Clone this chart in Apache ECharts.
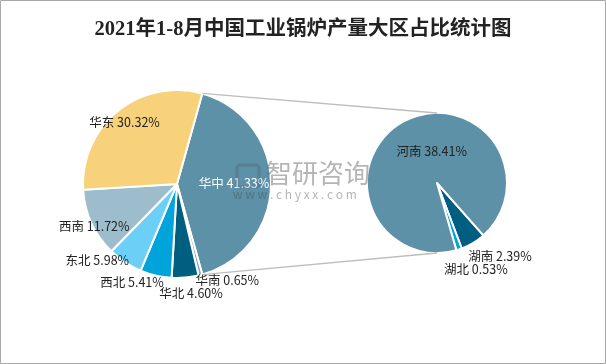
<!DOCTYPE html>
<html>
<head>
<meta charset="utf-8">
<script src="https://cdn.jsdelivr.net/npm/echarts@6/dist/echarts.min.js"></script>
<style>
html,body{margin:0;padding:0;background:#fff;}
#chart{width:606px;height:364px;}
</style>
</head>
<body>
<div id="chart"></div>
<script>
// ---- data ----
const titleText = '2021年1-8月中国工业锅炉产量大区占比统计图';
const mainNames = ['华中', '华南', '华北', '西北', '东北', '西南', '华东'];
const mainValues = [41.33, 0.65, 4.60, 5.41, 5.98, 11.72, 30.32];
const subNames = ['湖南', '湖北', '河南'];
const subValues = [2.39, 0.53, 38.41];

// ---- styling / layout (not data) ----
const mainColors = ['#5D91A8', '#7FA9BC', '#005F80', '#00A3DA', '#6BCFF6', '#9DBDCC', '#F7D27B'];
const subColors = ['#005F80', '#00A3DA', '#5D91A8'];
const mainLabelPos = ['inside', 'outside', 'outside', 'outside', 'outside', 'outside', 'inside'];
const mainLabelColor = ['#fff', '#222', '#222', '#222', '#222', '#222', '#222'];
const mainLabelShift = [[7, -1], [-10, 5], [-31, 16], [13, 7], [9, -2], [43, 3], [-21, -23]];
const subLabelPos = ['outside', 'outside', 'inside'];
const subLabelShift = [[-10, 13], [-20, 20], [13, 2]];

const L = { cx: 177, cy: 184, r: 94 };
const R = { cx: 437, cy: 183, r: 70 };
const subStart = 311.5;

const total = mainValues.reduce((a, b) => a + b, 0);
const splitSpan = mainValues[0] / total * 360;
const mainStart = splitSpan / 2;   // split slice centred on the right

function pt(c, degCCW) {
  const a = degCCW * Math.PI / 180;
  return [c.cx + c.r * Math.cos(a), c.cy - c.r * Math.sin(a)];
}
const topA = pt(L, mainStart), botA = pt(L, mainStart - splitSpan);
const topB = [R.cx, R.cy - R.r], botB = [R.cx, R.cy + R.r];

const font = '"Noto Sans CJK SC", "Microsoft YaHei", sans-serif';

const chart = echarts.init(document.getElementById('chart'), null, { renderer: 'canvas' });
chart.setOption({
  backgroundColor: '#fff',
  animation: false,
  title: {
    text: titleText,
    left: 'center',
    top: 14,
    textStyle: { fontFamily: '"Liberation Serif", "Noto Sans CJK SC", serif', fontSize: 20.5, fontWeight: 'bold', color: '#222' }
  },
  graphic: [
    { type: 'rect', shape: { x: 0.5, y: 0.5, width: 605, height: 363 }, style: { fill: 'none', stroke: '#A8A8A8', lineWidth: 1 }, z: 100 },
    { type: 'line', shape: { x1: topA[0], y1: topA[1], x2: topB[0], y2: topB[1] }, style: { stroke: '#BDBDBD', lineWidth: 1.3 }, z: 1 },
    { type: 'line', shape: { x1: botA[0], y1: botA[1], x2: botB[0], y2: botB[1] }, style: { stroke: '#BDBDBD', lineWidth: 1.3 }, z: 1 },
    { type: 'text', left: 266, top: 160, z: 1, zlevel: 0, style: { text: '智研咨询', font: '26px ' + font, fill: 'rgba(70,70,70,0.40)' } },
    { type: 'text', left: 233, top: 188, z: 1, style: { text: 'w w w . c h y x x . c o m', font: '12px ' + font, fill: 'rgba(70,70,70,0.40)' } },
    { type: 'rect', shape: { x: 237, y: 165, width: 22, height: 22, r: 3 }, z: 1, style: { fill: 'none', stroke: 'rgba(70,70,70,0.22)', lineWidth: 3 } }
  ],
  series: [
    {
      type: 'pie',
      center: [L.cx, L.cy],
      radius: L.r,
      startAngle: mainStart,
      clockwise: true,
      avoidLabelOverlap: false,
      itemStyle: { borderColor: '#fff', borderWidth: 2 },
      label: { show: true, fontFamily: font, fontSize: 12.5, formatter: p => p.name + ' ' + p.value.toFixed(2) + '%' },
      labelLine: { show: false, length: 0, length2: 0 },
      emphasis: { disabled: true },
      labelLayout: p => ({ dx: mainLabelShift[p.dataIndex][0], dy: mainLabelShift[p.dataIndex][1] }),
      data: mainNames.map((n, i) => ({
        name: n, value: mainValues[i],
        itemStyle: { color: mainColors[i] },
        label: { position: mainLabelPos[i], color: mainLabelColor[i] }
      })),
      z: 0
    },
    {
      type: 'pie',
      center: [R.cx, R.cy],
      radius: R.r,
      startAngle: subStart,
      clockwise: true,
      avoidLabelOverlap: false,
      itemStyle: { borderColor: '#fff', borderWidth: 2 },
      label: { show: true, fontFamily: font, fontSize: 12.5, color: '#222', formatter: p => p.name + ' ' + p.value.toFixed(2) + '%' },
      labelLine: { show: false, length: 0, length2: 0 },
      emphasis: { disabled: true },
      labelLayout: p => ({ dx: subLabelShift[p.dataIndex][0], dy: subLabelShift[p.dataIndex][1] }),
      data: subNames.map((n, i) => ({
        name: n, value: subValues[i],
        itemStyle: { color: subColors[i] },
        label: { position: subLabelPos[i] }
      })),
      z: 0
    }
  ]
});
</script>
</body>
</html>
